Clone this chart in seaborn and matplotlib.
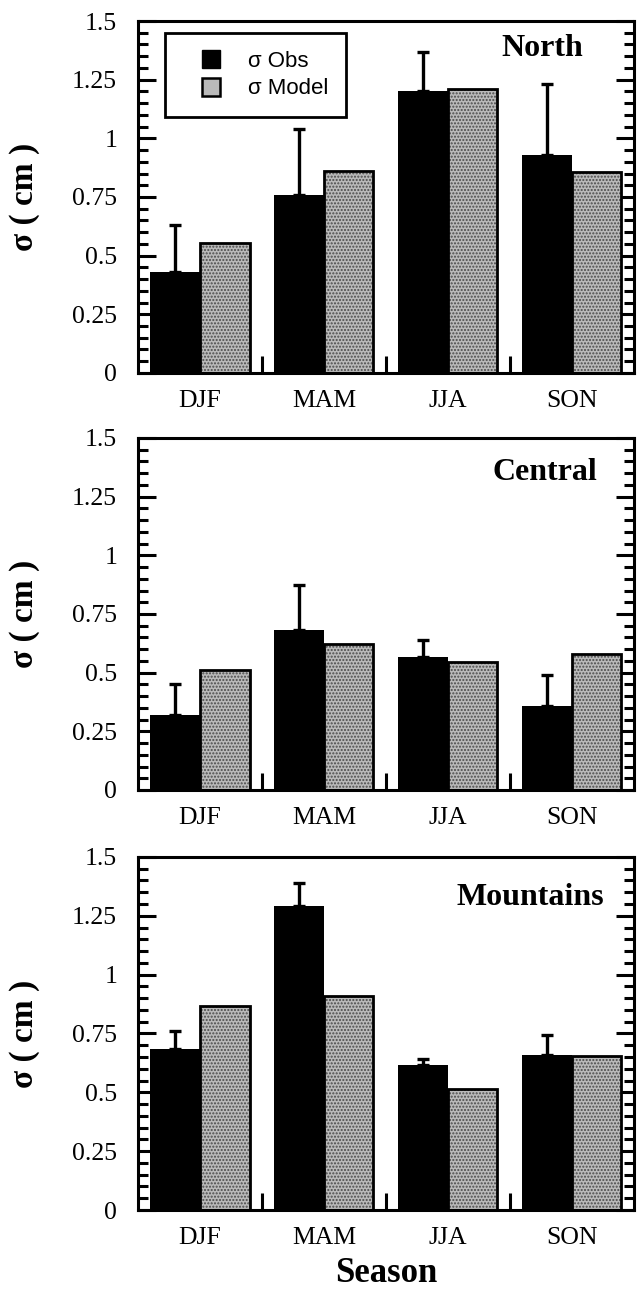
import numpy as np
import pandas as pd
import matplotlib
matplotlib.use("Agg")
import matplotlib.pyplot as plt
from matplotlib.lines import Line2D
from matplotlib.patches import Rectangle
from matplotlib.ticker import FixedLocator, MultipleLocator
import seaborn as sns

# ---- data -------------------------------------------------------------
seasons = ["DJF", "MAM", "JJA", "SON"]
regions = ["North", "Central", "Mountains"]
sources = ["σ Obs", "σ Model"]

obs_north = [0.43, 0.76, 1.20, 0.93]
obs_north_err = [0.20, 0.28, 0.17, 0.30]
model_north = [0.555, 0.86, 1.21, 0.855]

obs_central = [0.32, 0.68, 0.565, 0.36]
obs_central_err = [0.13, 0.195, 0.075, 0.13]
model_central = [0.51, 0.62, 0.545, 0.58]

obs_mountains = [0.685, 1.29, 0.615, 0.66]
obs_mountains_err = [0.075, 0.10, 0.025, 0.085]
model_mountains = [0.865, 0.91, 0.515, 0.655]

ytick_values = [0, 0.25, 0.5, 0.75, 1, 1.25, 1.5]
ytick_labels = ["0", "0.25", "0.5", "0.75", "1", "1.25", "1.5"]

# ---- style ------------------------------------------------------------
sns.set_style("ticks")
plt.rcParams["font.family"] = ["Liberation Serif", "DejaVu Serif"]
plt.rcParams["hatch.linewidth"] = 1.0
for key in ("text.color", "axes.labelcolor", "xtick.color", "ytick.color",
            "axes.edgecolor"):
    plt.rcParams[key] = "black"

SERIF = ["Liberation Serif", "DejaVu Serif"]
SANS = ["Liberation Sans", "DejaVu Sans"]
OBS_COLOR = "black"
MODEL_FACE = "#bababa"
MODEL_HATCH = "....."

fig = plt.figure(figsize=(6.37, 12.9), dpi=100)

# axes rectangles [left, bottom, width, height] for the three stacked panels
panel_rects = [
    [0.2166, 0.7109, 0.7784, 0.2728],
    [0.2166, 0.3876, 0.7784, 0.2729],
    [0.2166, 0.0620, 0.7784, 0.2737],
]
title_pos = [(0.897, 0.923), (0.927, 0.903), (0.940, 0.884)]

panels = [
    (obs_north, obs_north_err, model_north),
    (obs_central, obs_central_err, model_central),
    (obs_mountains, obs_mountains_err, model_mountains),
]

for i, (region, (obs, err, model)) in enumerate(zip(regions, panels)):
    ax = fig.add_axes(panel_rects[i])
    df = pd.DataFrame({
        "season": seasons * 2,
        "source": [sources[0]] * 4 + [sources[1]] * 4,
        "value": list(obs) + list(model),
    })
    sns.barplot(data=df, x="season", y="value", hue="source",
                order=seasons, hue_order=sources,
                palette={sources[0]: OBS_COLOR, sources[1]: MODEL_FACE},
                width=0.8, saturation=1, errorbar=None, legend=False, ax=ax)

    obs_bars, model_bars = ax.containers[0], ax.containers[1]
    for p in obs_bars:
        p.set_linewidth(0)
    for p in model_bars:
        p.set_facecolor(MODEL_FACE)
        p.set_edgecolor("#4a4a4a")
        p.set_hatch(MODEL_HATCH)
        p.set_linewidth(0)
        # black outline drawn over the stippled fill
        ax.add_patch(Rectangle(p.get_xy(), p.get_width(), p.get_height(),
                               fill=False, edgecolor="black", linewidth=2,
                               zorder=p.get_zorder() + 0.1))

    # one-sided (upper) error bars on the observed bars
    xs = [p.get_x() + p.get_width() / 2 for p in obs_bars]
    ax.errorbar(xs, obs, yerr=[np.zeros(len(err)), err], fmt="none",
                ecolor="black", elinewidth=2.4, capsize=4, capthick=2.4,
                zorder=5)

    ax.set_xlim(-0.5, 3.5)
    ax.set_ylim(0, 1.5)

    ax.yaxis.set_major_locator(FixedLocator(ytick_values))
    ax.set_yticklabels(ytick_labels, fontsize=18.5, family=SERIF)
    ax.yaxis.set_minor_locator(MultipleLocator(0.05))
    ax.tick_params(axis="y", which="both", direction="in",
                   left=True, right=True, width=2.2, color="black",
                   labelcolor="black")
    ax.tick_params(axis="y", which="major", length=13, pad=15)
    ax.tick_params(axis="y", which="minor", length=7)

    ax.set_xticks(range(len(seasons)))
    ax.set_xticklabels(seasons, fontsize=18.5, family=SERIF)
    ax.xaxis.set_minor_locator(FixedLocator([0.5, 1.5, 2.5]))
    ax.tick_params(axis="x", which="major", length=0, pad=12,
                   labelcolor="black")
    ax.tick_params(axis="x", which="minor", direction="in", length=12,
                   width=2.2, color="black", bottom=True, top=False)

    for s in ax.spines.values():
        s.set_linewidth(2.2)
        s.set_color("black")
        s.set_visible(True)

    ax.set_ylabel("σ ( cm )", fontsize=24, fontweight="bold", family=SERIF)
    ax.yaxis.set_label_coords(-0.198, 0.5)
    ax.set_xlabel("")

    ax.text(*title_pos[i], region, transform=ax.transAxes, ha="right",
            va="center", fontsize=23, fontweight="bold", family=SERIF)

    if i == 0:
        handles = [
            Line2D([], [], linestyle="none", marker="s", markersize=13.5,
                   markerfacecolor=OBS_COLOR, markeredgecolor="black"),
            Line2D([], [], linestyle="none", marker="s", markersize=12.5,
                   markerfacecolor=MODEL_FACE, markeredgecolor="black",
                   markeredgewidth=1.8),
        ]
        leg = ax.legend(handles, sources, loc="upper left",
                        bbox_to_anchor=(0.054, 0.966), borderaxespad=0,
                        prop={"family": SANS, "size": 16},
                        handlelength=2.6, handletextpad=0.36,
                        labelspacing=0.3, borderpad=0.8, fancybox=False,
                        framealpha=1, edgecolor="black")
        leg.get_frame().set_linewidth(2)

    if i == 2:
        ax.set_xlabel("Season", fontsize=25, fontweight="bold", family=SERIF,
                      labelpad=6)

fig.savefig("out.png", dpi=100)
